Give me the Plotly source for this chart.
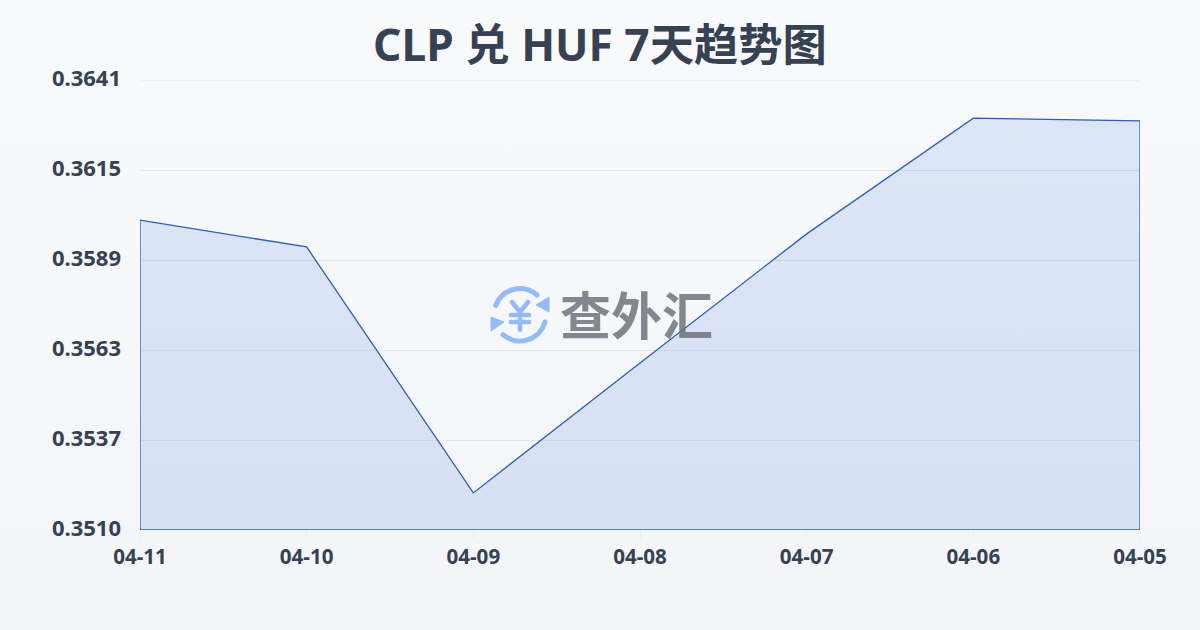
import base64
import plotly.graph_objects as go

title = "CLP 兑 HUF 7天趋势图"
dates = ["04-11", "04-10", "04-09", "04-08", "04-07", "04-06", "04-05"]
rates = [0.36007, 0.35929, 0.35213, 0.35591, 0.35967, 0.36304, 0.36296]
y_ticks = [0.35105, 0.35367, 0.35629, 0.35891, 0.36153, 0.36415]
y_labels = ["0.3510", "0.3537", "0.3563", "0.3589", "0.3615", "0.3641"]
y_min, y_max = y_ticks[0], y_ticks[-1]
INK = "#364153"
LINE = "#2a5cc2"
CJK = "Noto Sans CJK SC"
SANS = "Noto Sans, Noto Sans CJK SC"

bg_svg = ('<svg xmlns="http://www.w3.org/2000/svg" width="1200" height="630">'
          '<defs><linearGradient id="g" x1="0" y1="0" x2="0" y2="1">'
          '<stop offset="0" stop-color="#f8fafc"/><stop offset="1" stop-color="#f3f5f8"/>'
          '</linearGradient></defs><rect width="1200" height="630" fill="url(#g)"/></svg>')
logo_svg = ('<svg xmlns="http://www.w3.org/2000/svg" width="70" height="70" viewBox="485 280 70 70">'
            '<g fill="none" stroke="#93bbfb" stroke-width="5" stroke-linecap="round" stroke-linejoin="round">'
            '<path d="M495.7 305.5 A26 26 0 0 1 537 295"/>'
            '<path d="M545 322 A26 26 0 0 1 503 334.7"/>'
            '<path stroke-width="4.5" d="M512 302 L520 312 L528 302 M511 315 H529 M511 322 H529 M520 312 V330"/>'
            '</g><g fill="#93bbfb" stroke="#93bbfb" stroke-width="1" stroke-linejoin="round">'
            '<path d="M549 297 V312 L536 305 Z"/><path d="M491 317 V331 L504 322 Z"/></g></svg>')


def uri(svg):
    return "data:image/svg+xml;base64," + base64.b64encode(svg.encode()).decode()


fig = go.Figure()
# Closed outline: the area border also runs down both sides and along the baseline.
fig.add_trace(go.Scatter(
    x=[dates[0]] + dates + [dates[-1], dates[0]],
    y=[y_min] + rates + [y_min, y_min],
    mode="lines",
    fill="toself",
    fillgradient=dict(type="vertical", colorscale=[[0, "rgba(40,92,215,0.135)"], [1, "rgba(37,105,220,0.135)"]]),
    line=dict(color=LINE, width=1.3),
    hoverinfo="skip",
    showlegend=False,
))
fig.update_layout(
    width=1200, height=630,
    margin=dict(l=140, r=60, t=80, b=100),
    paper_bgcolor="#f6f8fb",
    plot_bgcolor="rgba(0,0,0,0)",
    font=dict(family=SANS, color=INK),
    title=dict(text=title, x=0.5, xanchor="center", y=0.927, yanchor="middle",
               font=dict(family=SANS, size=44.3, color=INK, weight=700)),
    xaxis=dict(type="category", categoryorder="array", categoryarray=dates,
               range=[0, 6], showgrid=False, zeroline=False, showline=False,
               ticks="outside", ticklen=8, tickcolor="#eceeee", tickwidth=1,
               tickfont=dict(family="Noto Sans", size=20.6, color=INK, weight=700)),
    yaxis=dict(range=[y_min, y_max], tickvals=y_ticks, ticktext=y_labels,
               showgrid=True, gridcolor="#e5e7eb", gridwidth=1, zeroline=False,
               showline=False, ticks="", ticklabelstandoff=18,
               tickfont=dict(family="Noto Sans", size=22, color=INK, weight=700)),
    shapes=[dict(type="line", xref="paper", x0=0, x1=1, yref="y", y0=y_max, y1=y_max,
                 line=dict(color="#e5e7eb", width=1), layer="below")],
    images=[
        dict(source=uri(bg_svg), xref="paper", yref="paper", x=-140/1000, y=530/450,
             sizex=1200/1000, sizey=630/450, xanchor="left", yanchor="top",
             sizing="stretch", layer="below"),
        dict(source=uri(logo_svg), xref="paper", yref="paper", x=(485-140)/1000, y=(530-280)/450,
             sizex=70/1000, sizey=70/450, xanchor="left", yanchor="top",
             sizing="stretch", layer="above"),
    ],
    annotations=[dict(text="<b>查外汇</b>", xref="paper", yref="paper",
                      x=(636-140)/1000, y=(530-313)/450, showarrow=False,
                      font=dict(family=CJK, size=51, color="#6b6f78"), opacity=0.82)],
)
fig.write_html("out.html", config={"displayModeBar": False}, post_script=(
    "document.body.style.margin='0';"
    "document.querySelectorAll('.ytick text').forEach(function(t){t.setAttribute('dy','-2');});"
))
